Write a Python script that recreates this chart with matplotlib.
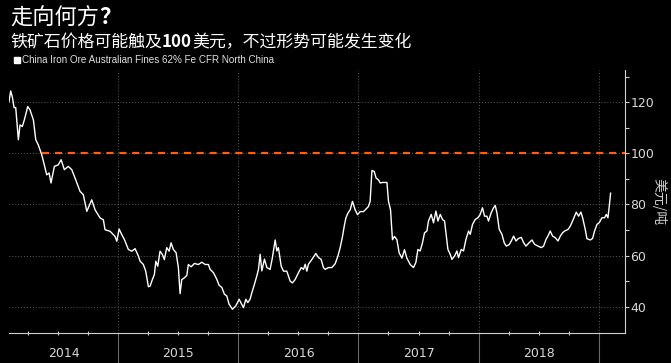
import matplotlib
matplotlib.use("Agg")
import matplotlib.pyplot as plt
import numpy as np

# ---- data (decimal year, USD/ton) ----
t = [2014.089, 2014.103, 2014.117, 2014.131, 2014.145, 2014.167, 2014.181, 2014.200, 2014.217, 2014.245,
     2014.264, 2014.292, 2014.312, 2014.333, 2014.362, 2014.383, 2014.403, 2014.423, 2014.439, 2014.467,
     2014.500, 2014.523, 2014.550, 2014.583, 2014.612, 2014.645, 2014.681, 2014.708, 2014.737, 2014.778,
     2014.806, 2014.848, 2014.875, 2014.889, 2014.931, 2014.972, 2014.987,
     2015.006, 2015.028, 2015.050, 2015.083, 2015.112, 2015.139, 2015.167, 2015.181, 2015.208, 2015.228,
     2015.250, 2015.264, 2015.283, 2015.300, 2015.312, 2015.328, 2015.347, 2015.367, 2015.383, 2015.403,
     2015.423, 2015.439, 2015.458, 2015.481, 2015.500, 2015.514, 2015.528, 2015.550, 2015.570, 2015.583,
     2015.606, 2015.633, 2015.667, 2015.695, 2015.723, 2015.750, 2015.764, 2015.792, 2015.820, 2015.839,
     2015.862, 2015.883, 2015.903, 2015.922, 2015.950, 2015.978,
     2016.006, 2016.028, 2016.042, 2016.062, 2016.078, 2016.097, 2016.112, 2016.133, 2016.153, 2016.167,
     2016.181, 2016.195, 2016.217, 2016.237, 2016.264, 2016.283, 2016.306, 2016.320, 2016.333, 2016.356,
     2016.375, 2016.403, 2016.431, 2016.450, 2016.472, 2016.500, 2016.523, 2016.542, 2016.556, 2016.570,
     2016.583, 2016.612, 2016.645, 2016.667, 2016.689, 2016.708, 2016.723, 2016.750, 2016.778, 2016.806,
     2016.828, 2016.847, 2016.867, 2016.881, 2016.895, 2016.912, 2016.931, 2016.950, 2016.972, 2016.992,
     2017.014, 2017.042, 2017.062, 2017.083, 2017.097, 2017.112, 2017.131, 2017.147, 2017.167, 2017.181,
     2017.200, 2017.237, 2017.250, 2017.267, 2017.283, 2017.300, 2017.320, 2017.339, 2017.362, 2017.383,
     2017.403, 2017.431, 2017.458, 2017.478, 2017.495, 2017.514, 2017.533, 2017.550, 2017.570, 2017.583,
     2017.606, 2017.625, 2017.645, 2017.662, 2017.681, 2017.700, 2017.717, 2017.728, 2017.745, 2017.764,
     2017.778, 2017.800, 2017.820, 2017.833, 2017.856, 2017.875, 2017.895, 2017.917, 2017.931, 2017.950,
     2017.972, 2017.995,
     2018.014, 2018.033, 2018.050, 2018.070, 2018.083, 2018.106, 2018.125, 2018.139, 2018.153, 2018.172,
     2018.195, 2018.214, 2018.231, 2018.256, 2018.273, 2018.292, 2018.312, 2018.333, 2018.356, 2018.375,
     2018.395, 2018.417, 2018.445, 2018.467, 2018.495, 2018.523, 2018.542, 2018.562, 2018.578, 2018.597,
     2018.617, 2018.639, 2018.662, 2018.681, 2018.700, 2018.717, 2018.745, 2018.764, 2018.783, 2018.800,
     2018.814, 2018.833, 2018.853, 2018.867, 2018.889, 2018.903, 2018.931, 2018.950, 2018.967, 2018.987,
     2019.006, 2019.028, 2019.050, 2019.064, 2019.078, 2019.089, 2019.100]
price = [120.2, 124.4, 122.0, 117.9, 117.9, 105.3, 111.1, 110.5, 113.1, 118.3,
         117.0, 113.1, 105.3, 103.3, 99.4, 95.5, 91.6, 92.3, 88.4, 94.9,
         95.5, 97.5, 93.6, 94.9, 93.6, 89.6, 85.1, 83.8, 77.3, 81.8,
         77.9, 74.7, 74.0, 70.1, 69.5, 67.5, 65.6,
         70.4, 68.2, 66.3, 62.4, 61.7, 62.7, 59.8, 57.8, 56.5, 53.9,
         47.8, 48.0, 50.6, 52.6, 57.8, 55.8, 61.7, 60.4, 58.4, 63.1,
         61.7, 65.0, 62.4, 61.1, 55.2, 45.1, 50.6, 51.3, 52.2, 56.5,
         55.6, 56.9, 56.5, 57.4, 56.5, 56.5, 54.6, 53.3, 50.7, 48.4,
         47.5, 44.9, 44.2, 41.0, 39.0, 40.3,
         42.9, 40.9, 39.6, 42.9, 41.6, 42.9, 45.5, 48.7, 52.0, 54.6,
         60.5, 54.0, 58.6, 55.3, 54.6, 59.2, 66.1, 61.8, 63.1, 55.9,
         53.9, 53.9, 50.0, 49.3, 50.6, 53.3, 55.3, 54.6, 56.6, 53.9,
         56.6, 58.5, 60.8, 59.2, 58.5, 55.3, 54.6, 55.3, 55.3, 56.8,
         59.7, 63.0, 67.5, 71.4, 74.7, 76.6, 77.9, 81.2, 77.9, 76.0,
         77.2, 77.2, 78.2, 79.2, 81.2, 93.3, 92.9, 90.3, 89.6, 88.4,
         88.6, 88.6, 81.2, 77.9, 66.2, 67.5, 66.2, 61.0, 59.0, 62.3,
         59.0, 56.5, 55.3, 57.3, 62.4, 61.8, 65.0, 68.9, 69.6, 73.5,
         76.1, 72.8, 77.4, 73.5, 76.1, 74.1, 73.5, 69.0, 62.4, 60.5,
         58.5, 59.8, 61.8, 59.2, 62.4, 61.8, 66.3, 69.6, 68.3, 72.2,
         74.1, 74.8,
         76.1, 78.7, 75.4, 75.4, 73.5, 76.8, 78.7, 79.6, 76.8, 70.3,
         68.3, 65.0, 63.7, 64.3, 65.7, 67.6, 65.7, 66.7, 67.1, 65.1,
         63.7, 64.8, 66.1, 64.4, 63.7, 63.1, 63.7, 66.3, 67.6, 69.6,
         67.6, 67.0, 65.7, 67.6, 68.9, 69.6, 70.2, 71.5, 73.5, 75.4,
         77.0, 75.4, 77.0, 74.8, 70.2, 66.6, 66.1, 66.7, 69.7, 72.2,
         72.9, 74.8, 74.8, 76.1, 74.8, 79.4, 84.4]

years = [2015, 2016, 2017, 2018, 2019]
year_labels = ["2014", "2015", "2016", "2017", "2018"]
year_label_pos = [2014.545, 2015.5, 2016.5, 2017.5, 2018.5]
yticks = [40, 60, 80, 100, 120]
target = 100

title_parts = [("走向何方", "normal"), ("？", "bold")]
subtitle_parts = [("铁矿石价格可能触及", "normal"), ("100", "bold"), ("美元，不过形势可能发生变化", "normal")]
legend_label = "China Iron Ore Australian Fines 62% Fe CFR North China"
ylabel = "美元/吨"

CJK = ["Noto Sans CJK SC", "DejaVu Sans"]
plt.rcParams["font.family"] = CJK

fig = plt.figure(figsize=(6.71, 3.63), dpi=100, facecolor="black")
ax = fig.add_axes([9 / 671, 30 / 363, (625 - 9) / 671, 263 / 363])
ax.set_facecolor("black")

xmin, xmax = 2014.089, 2019.22
ax.set_xlim(xmin, xmax)
ax.set_ylim(29.7, 132.6)

grid_kw = dict(color="#5c5c5c", lw=0.7, ls=(0, (1, 2)), zorder=1)
for yv in yticks:
    ax.axhline(yv, **grid_kw)
for yr in years:
    ax.axvline(yr, **grid_kw)
    ax.axvline(yr, ymin=-0.115, ymax=0, color="#6a6a6a", lw=0.8, clip_on=False, zorder=1)

# target line (from crossing onward)
ax.plot([2014.36, xmax], [target, target], color="#ff5f0f", lw=1.6, ls=(0, (3.2, 2.6)), zorder=2)

ax.plot(t, price, color="white", lw=1.0, zorder=3)

for s in ["top", "left"]:
    ax.spines[s].set_visible(False)
for s in ["right", "bottom"]:
    ax.spines[s].set_color("#cfcfcf")
    ax.spines[s].set_linewidth(0.8)

ax.yaxis.tick_right()
ax.set_yticks(yticks)
ax.set_yticks(np.arange(50, 140, 20), minor=True)
ax.tick_params(axis="y", which="both", colors="#cfcfcf", labelcolor="#d8d8d8",
               labelsize=9, length=3, width=0.8, pad=1, direction="out")
for lbl in ax.get_yticklabels():
    lbl.set_fontfamily(["DejaVu Sans"])

ax.set_xticks(years)
ax.set_xticklabels([])
qticks = [y + q for y in [2014, 2015, 2016, 2017, 2018, 2019] for q in (0.25, 0.5, 0.75)]
qticks = [q for q in qticks if xmin < q < xmax]
ax.set_xticks(qticks, minor=True)
ax.tick_params(axis="x", which="major", length=0)
ax.tick_params(axis="x", which="minor", colors="#cfcfcf", length=2.5, width=0.8, direction="inout")

for pos, lab in zip(year_label_pos, year_labels):
    ax.text(pos, -0.078, lab, transform=ax.get_xaxis_transform(), ha="center", va="center",
            color="#d8d8d8", fontsize=9, family=["DejaVu Sans"])

ax.text(1.055, 0.5, ylabel, transform=ax.transAxes, rotation=270, ha="center", va="center",
        color="#cfcfcf", fontsize=10, family=CJK)

renderer = fig.canvas.get_renderer()


def draw_parts(parts, x_px, y_px, size):
    x0 = x_px / 671
    for txt, w in parts:
        tt = fig.text(x0, 1 - y_px / 363, txt, color="white", fontsize=size, fontweight=w,
                      ha="left", va="center", family=CJK)
        bb = tt.get_window_extent(renderer)
        x0 = bb.x1 / fig.bbox.width


draw_parts(title_parts, 10, 18, 16)
draw_parts(subtitle_parts, 10, 42, 12.2)

fig.patches.append(matplotlib.patches.Rectangle((14 / 671, 1 - 63 / 363), 6 / 671, 6 / 363,
                                                transform=fig.transFigure, color="white"))
fig.text(22 / 671, 1 - 60 / 363, legend_label, color="#e0e0e0", fontsize=7.1, ha="left",
         va="center", family=["Liberation Sans", "DejaVu Sans"])

fig.savefig("out.png", dpi=100, facecolor="black")
